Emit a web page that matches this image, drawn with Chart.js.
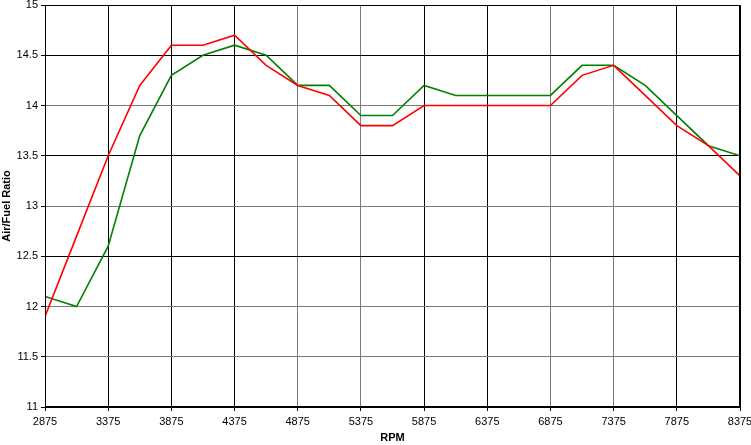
<!DOCTYPE html>
<html>
<head>
<meta charset="utf-8">
<script src="https://cdn.jsdelivr.net/npm/chart.js@4"></script>
<style>
  html, body { margin: 0; padding: 0; background: #fff; }
  #wrap { width: 751px; height: 445px; position: relative; }
</style>
</head>
<body>
<div id="wrap"><canvas id="afr"></canvas></div>
<script>
// RPM steps (every 250)
const rpm = [2875, 3125, 3375, 3625, 3875, 4125, 4375, 4625, 4875, 5125, 5375, 5625,
             5875, 6125, 6375, 6625, 6875, 7125, 7375, 7625, 7875, 8125, 8375];
const redAfr = [11.9, 12.7, 13.5, 14.2, 14.6, 14.6, 14.7, 14.4, 14.2, 14.1, 13.8, 13.8,
                14.0, 14.0, 14.0, 14.0, 14.0, 14.3, 14.4, 14.1, 13.8, 13.6, 13.3];
const greenAfr = [12.1, 12.0, 12.6, 13.7, 14.3, 14.5, 14.6, 14.5, 14.2, 14.2, 13.9, 13.9,
                  14.2, 14.1, 14.1, 14.1, 14.1, 14.4, 14.4, 14.2, 13.9, 13.6, 13.5];

const xMin = 2875, xMax = 8375, xStep = 500;
const yMin = 11, yMax = 15, yStep = 0.5;

// the scanned grid has some lines that look lighter
const lightX = [4875, 5375, 6875, 7375];
const lightY = [14, 13, 12, 11.5, 11];

const toPts = arr => arr.map((v, i) => ({ x: rpm[i], y: v }));
const font = { family: 'Liberation Sans, Arial, sans-serif', size: 11 };

new Chart(document.getElementById('afr'), {
    type: 'line',
    data: {
        datasets: [
            { data: toPts(redAfr), borderColor: '#ff0000', borderWidth: 1.6, pointRadius: 0, tension: 0 },
            { data: toPts(greenAfr), borderColor: '#008000', borderWidth: 1.6, pointRadius: 0, tension: 0 }
        ]
    },
    options: {
        responsive: true,
        maintainAspectRatio: false,
        animation: false,
        layout: { padding: { top: 5, right: 11, left: 0, bottom: 0 } },
        plugins: { legend: { display: false }, tooltip: { enabled: false } },
        scales: {
            x: {
                type: 'linear',
                min: xMin, max: xMax,
                border: { color: '#000', width: 1 },
                grid: {
                    color: c => lightX.includes(c.tick.value) ? '#7a7a7a' : '#000',
                    lineWidth: 1,
                    tickLength: 4,
                    tickColor: '#000'
                },
                ticks: {
                    stepSize: xStep,
                    color: '#000',
                    font: font,
                    padding: 4,
                    maxRotation: 0,
                    callback: v => String(v)
                },
                title: {
                    display: true, text: 'RPM', color: '#000',
                    font: { family: font.family, size: 11, weight: 'bold' },
                    padding: { top: 3, bottom: 0 }
                },
                afterFit: s => { s.height = 38; s.paddingLeft = 0; s.paddingRight = 0; }
            },
            y: {
                min: yMin, max: yMax,
                border: { color: '#000', width: 1 },
                grid: {
                    color: c => lightY.includes(c.tick.value) ? '#7a7a7a' : '#000',
                    lineWidth: 1,
                    tickLength: 4,
                    tickColor: '#000'
                },
                ticks: {
                    stepSize: yStep,
                    color: '#000',
                    font: font,
                    padding: 3,
                    callback: v => String(v)
                },
                title: {
                    display: true, text: 'Air/Fuel Ratio', color: '#000',
                    font: { family: font.family, size: 11, weight: 'bold' },
                    padding: { top: 0, bottom: 0 }
                },
                afterFit: s => { s.width = 45; s.paddingTop = 0; s.paddingBottom = 0; }
            }
        }
    },
    plugins: [{
        id: 'frame',
        afterDraw(chart) {
            const { ctx, chartArea: a } = chart;
            ctx.save();
            ctx.strokeStyle = '#000';
            ctx.lineWidth = 1;
            ctx.strokeRect(a.left + 0.5, a.top + 0.5, a.right - a.left - 1, a.bottom - a.top - 1);
            ctx.restore();
        }
    }]
});
</script>
</body>
</html>
